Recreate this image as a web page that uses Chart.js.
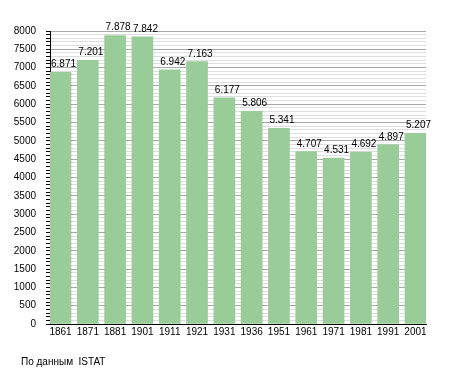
<!DOCTYPE html>
<html>
<head>
<meta charset="utf-8">
<script src="https://cdn.jsdelivr.net/npm/chart.js@4/dist/chart.umd.min.js"></script>
<style>
    body { margin: 0; background: #fff; }
    #wrap { position: relative; width: 455px; height: 373px; }
    #fonte { position: absolute; left: 21px; top: 356px; font: 10px "Liberation Sans", Arial, sans-serif; color: #000; white-space: pre; }
</style>
</head>
<body>
<div id="wrap">
    <canvas id="chartPop" width="455" height="373"></canvas>
    <div id="fonte">По данным  ISTAT</div>
</div>
<script>
var anni = ['1861', '1871', '1881', '1901', '1911', '1921', '1931', '1936', '1951', '1961', '1971', '1981', '1991', '2001'];
var abitanti = [6871, 7201, 7878, 7842, 6942, 7163, 6177, 5806, 5341, 4707, 4531, 4692, 4897, 5207];
var yMax = 8000;
var yStepMinor = 100;
var yStepMajor = 500;

function formato(v)
{
    return String(v).replace(/\B(?=(\d{3})+(?!\d))/g, '.');
}

Chart.defaults.font.family = '"Liberation Sans", Arial, sans-serif';
Chart.defaults.font.size = 10;
Chart.defaults.color = '#000';

// etichette sopra le barre, allineate al bordo sinistro della barra
var etichette = {
    id: 'etichette',
    afterDatasetsDraw: function (chart) {
        var ctx = chart.ctx;
        var meta = chart.getDatasetMeta(0);
        ctx.save();
        ctx.font = '10px "Liberation Sans", Arial, sans-serif';
        ctx.fillStyle = '#000';
        ctx.textAlign = 'left';
        ctx.textBaseline = 'alphabetic';
        meta.data.forEach(function (bar, i) {
            ctx.fillText(formato(abitanti[i]), bar.x - bar.width / 2 + 1, bar.y - 5);
        });
        ctx.restore();
    }
};

var chartPop = new Chart(document.getElementById('chartPop'), {
    type: 'bar',
    data: {
        datasets: [{
            data: abitanti.map(function (v, i) { return {x: i, y: v}; }),
            backgroundColor: '#99cc99',
            borderWidth: 0,
            barThickness: 21
        }]
    },
    plugins: [etichette],
    options: {
        responsive: false,
        animation: false,
        layout: {
            padding: {left: 0, top: 31, right: 29, bottom: 29}
        },
        plugins: {
            legend: {display: false},
            tooltip: {enabled: false}
        },
        scales: {
            x: {
                type: 'linear',
                offset: false,
                min: -0.385,
                max: anni.length - 1 + 0.385,
                grid: {display: false, drawTicks: false, offset: false},
                border: {color: '#000', width: 1},
                afterBuildTicks: function (scale) {
                    scale.ticks = anni.map(function (a, i) { return {value: i}; });
                },
                afterFit: function (scale) {
                    scale.height = 20;
                },
                ticks: {
                    autoSkip: false,
                    maxRotation: 0,
                    padding: 2,
                    callback: function (v) {
                        return anni[v];
                    }
                }
            },
            y: {
                min: 0,
                max: yMax,
                border: {color: '#000', width: 1},
                afterFit: function (scale) {
                    scale.width = 50;
                },
                grid: {
                    color: function (c) {
                        return c.tick.value % yStepMajor === 0 ? '#a8a8a8' : '#dedede';
                    },
                    tickColor: '#000',
                    tickLength: 4
                },
                ticks: {
                    stepSize: yStepMinor,
                    autoSkip: false,
                    padding: 10,
                    callback: function (v) {
                        return v % yStepMajor === 0 ? v : '';
                    }
                }
            }
        }
    }
});
</script>
</body>
</html>
